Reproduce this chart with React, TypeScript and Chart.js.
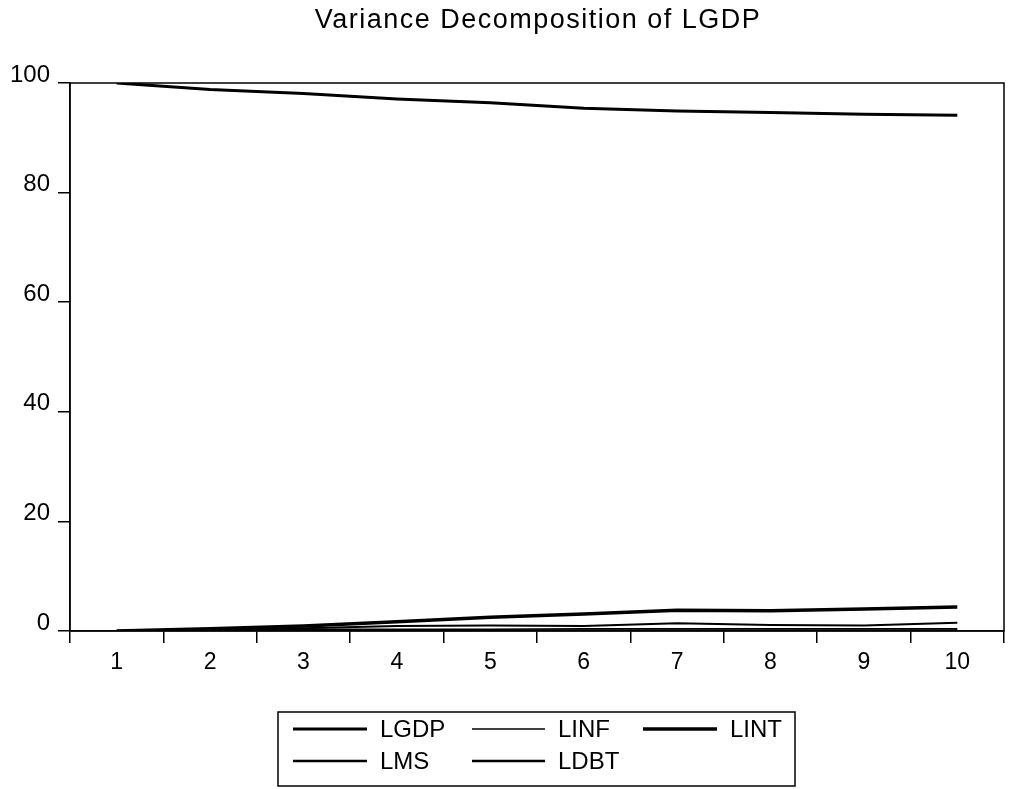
import React, { useEffect, useRef } from "react";
import { Chart, registerables } from "chart.js";

Chart.register(...registerables);

const periods = ["1", "2", "3", "4", "5", "6", "7", "8", "9", "10"];
const lgdp = [100, 98.8, 98.1, 97.1, 96.4, 95.4, 94.9, 94.6, 94.3, 94.1];
const linf = [0, 0.2, 0.3, 0.3, 0.3, 0.4, 0.4, 0.4, 0.4, 0.4];
const lint = [0, 0.4, 0.9, 1.7, 2.5, 3.1, 3.8, 3.7, 4.0, 4.4];
const lms = [0, 0.3, 0.5, 0.9, 1.0, 0.9, 1.4, 1.1, 1.0, 1.5];
const ldbt = [0, 0.1, 0.1, 0.1, 0.1, 0.1, 0.1, 0.1, 0.1, 0.1];
const titleText = "Variance Decomposition of LGDP";

const FONT = "'Liberation Sans', Arial, sans-serif";

const framePlugin = {
  id: "frameAndLegend",
  afterDraw(chart: any) {
    const { ctx, chartArea } = chart;
    ctx.save();
    // frame
    ctx.strokeStyle = "#000";
    ctx.lineWidth = 1.5;
    ctx.strokeRect(chartArea.left, chartArea.top, chartArea.right - chartArea.left, chartArea.bottom - chartArea.top);
    // title
    ctx.fillStyle = "#000";
    ctx.font = `27px ${FONT}`;
    (ctx as any).letterSpacing = "1.5px";
    ctx.textAlign = "center";
    ctx.textBaseline = "alphabetic";
    ctx.fillText(titleText, 538, 28);
    (ctx as any).letterSpacing = "0px";
    // legend box
    ctx.lineWidth = 1.5;
    ctx.strokeRect(278, 712, 517, 74);
    const items = [
      { label: "LGDP", x1: 293, x2: 367, tx: 380, y: 729, w: 3 },
      { label: "LINF", x1: 472, x2: 545, tx: 558, y: 729, w: 1.5 },
      { label: "LINT", x1: 643, x2: 717, tx: 730, y: 729, w: 3.5 },
      { label: "LMS", x1: 293, x2: 367, tx: 380, y: 761, w: 2.5 },
      { label: "LDBT", x1: 472, x2: 545, tx: 558, y: 761, w: 2.5 },
    ];
    ctx.font = `24px ${FONT}`;
    ctx.textAlign = "left";
    ctx.textBaseline = "middle";
    for (const it of items) {
      ctx.beginPath();
      ctx.lineWidth = it.w;
      ctx.moveTo(it.x1, it.y);
      ctx.lineTo(it.x2, it.y);
      ctx.stroke();
      ctx.fillText(it.label, it.tx, it.y + 1);
    }
    ctx.restore();
  },
};

export default function App() {
  const ref = useRef<HTMLCanvasElement | null>(null);
  useEffect(() => {
    document.body.style.margin = "0";
    const mk = (label: string, data: number[], w: number) => ({
      label,
      data,
      borderColor: "#000",
      backgroundColor: "#000",
      borderWidth: w,
      pointRadius: 0,
      tension: 0,
      fill: false,
    });
    const chart = new Chart(ref.current as HTMLCanvasElement, {
      type: "line",
      data: {
        labels: periods,
        datasets: [
          mk("LGDP", lgdp, 3),
          mk("LINF", linf, 1.5),
          mk("LINT", lint, 3.5),
          mk("LMS", lms, 2),
          mk("LDBT", ldbt, 2.5),
        ],
      },
      options: {
        responsive: false,
        animation: false,
        layout: { padding: { left: 0, top: 83, right: 7, bottom: 0 } },
        plugins: {
          legend: { display: false },
          title: { display: false },
          tooltip: { enabled: false },
        },
        scales: {
          x: {
            type: "category",
            offset: true,
            grid: {
              offset: true,
              drawOnChartArea: false,
              drawTicks: true,
              tickLength: 12,
              color: "#000",
              lineWidth: 1.5,
            },
            border: { display: true, color: "#000", width: 1.5 },
            ticks: {
              color: "#000",
              font: { family: FONT, size: 23 },
              padding: 6,
              maxRotation: 0,
            },
            afterFit: (axis: any) => {
              axis.height = 158;
            },
          },
          y: {
            min: 0,
            max: 100,
            grid: {
              drawOnChartArea: false,
              drawTicks: true,
              tickLength: 12,
              color: "#000",
              lineWidth: 1.5,
            },
            border: { display: true, color: "#000", width: 1.5 },
            ticks: {
              stepSize: 20,
              color: "#000",
              font: { family: FONT, size: 24 },
              padding: 8,
              labelOffset: -8,
            },
            afterFit: (axis: any) => {
              axis.width = 70;
            },
          },
        },
      },
      plugins: [framePlugin],
    });
    return () => chart.destroy();
  }, []);
  return (
    <div style={{ width: 1011, height: 789 }}>
      <canvas ref={ref} width={1011} height={789} />
    </div>
  );
}
